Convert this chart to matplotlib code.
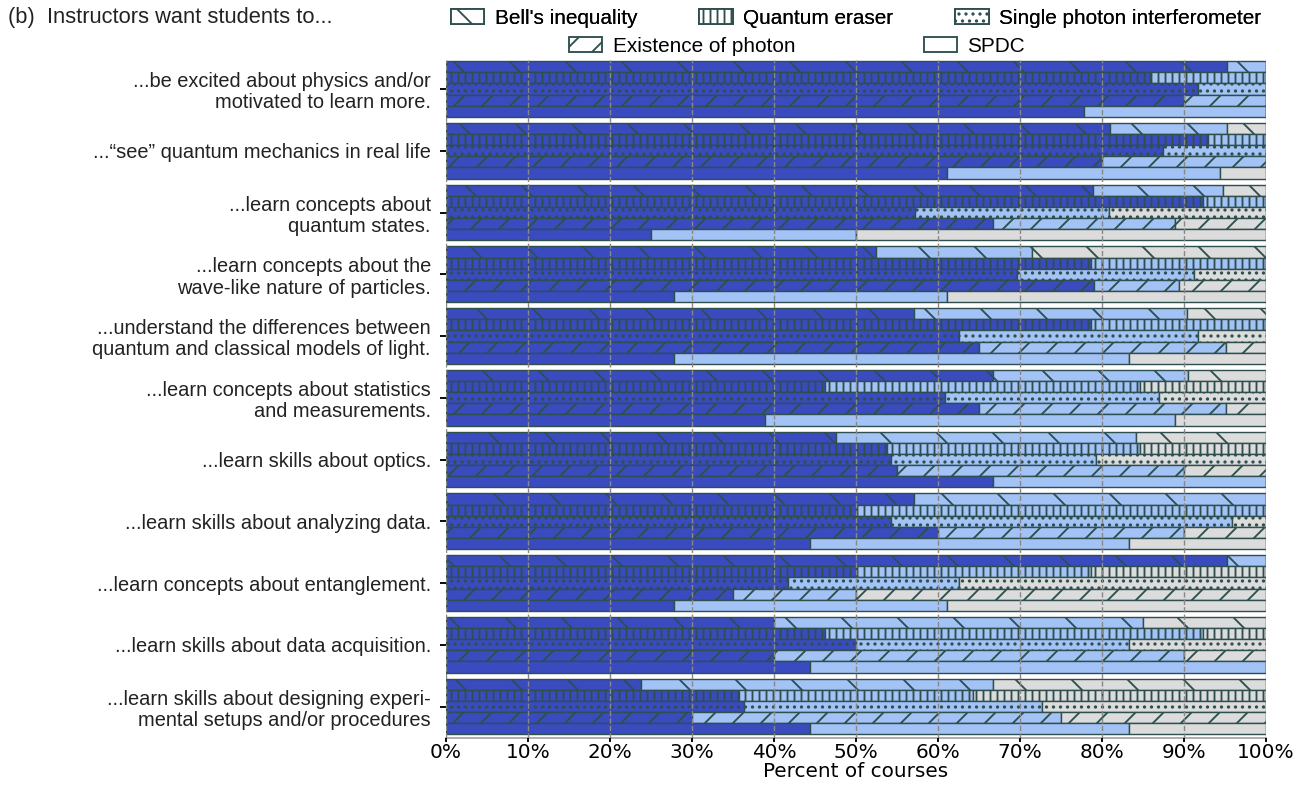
import matplotlib
matplotlib.use("Agg")
import matplotlib.pyplot as plt
import matplotlib.patches as mpatches
import numpy as np

# categories (top to bottom)
goals = [
    "...be excited about physics and/or\nmotivated to learn more.",
    "...\u201csee\u201d quantum mechanics in real life",
    "...learn concepts about\nquantum states.",
    "...learn concepts about the\nwave-like nature of particles.",
    "...understand the differences between\nquantum and classical models of light.",
    "...learn concepts about statistics\nand measurements.",
    "...learn skills about optics.",
    "...learn skills about analyzing data.",
    "...learn concepts about entanglement.",
    "...learn skills about data acquisition.",
    "...learn skills about designing experi-\nmental setups and/or procedures",
]

experiments = ["Bell's inequality", "Quantum eraser", "Single photon interferometer",
               "Existence of photon", "SPDC"]

# percent of courses per segment: dark / light / gray
bell_dark = [95.2, 81.0, 78.9, 52.4, 57.1, 66.7, 47.6, 57.1, 95.2, 40.0, 23.8]
bell_light = [4.8, 14.2, 15.9, 19.1, 33.3, 23.8, 36.6, 42.9, 4.8, 45.0, 42.9]
bell_gray = [0.0, 4.8, 5.2, 28.5, 9.6, 9.5, 15.8, 0.0, 0.0, 15.0, 33.3]

qe_dark = [85.8, 92.9, 92.3, 78.6, 78.6, 46.2, 53.8, 50.0, 50.0, 46.2, 35.7]
qe_light = [14.2, 7.1, 7.7, 21.4, 21.4, 38.4, 30.8, 50.0, 28.6, 46.1, 28.6]
qe_gray = [0.0, 0.0, 0.0, 0.0, 0.0, 15.4, 15.4, 0.0, 21.4, 7.7, 35.7]

spi_dark = [91.7, 87.5, 57.2, 69.6, 62.6, 60.9, 54.3, 54.3, 41.7, 50.0, 36.4]
spi_light = [8.3, 12.5, 23.7, 21.6, 29.1, 26.1, 25.0, 41.5, 20.9, 33.3, 36.3]
spi_gray = [0.0, 0.0, 19.1, 8.8, 8.3, 13.0, 20.7, 4.2, 37.4, 16.7, 27.3]

eop_dark = [90.0, 80.0, 66.7, 79.0, 65.0, 65.0, 55.0, 60.0, 35.0, 40.0, 30.0]
eop_light = [10.0, 20.0, 22.2, 10.4, 30.1, 30.1, 35.0, 30.0, 15.0, 50.0, 45.0]
eop_gray = [0.0, 0.0, 11.1, 10.6, 4.9, 4.9, 10.0, 10.0, 50.0, 10.0, 25.0]

spdc_dark = [77.8, 61.1, 25.0, 27.8, 27.8, 38.9, 66.7, 44.4, 27.8, 44.4, 44.4]
spdc_light = [22.2, 33.3, 25.0, 33.3, 55.5, 50.0, 33.3, 38.9, 33.3, 55.6, 38.9]
spdc_gray = [0.0, 5.6, 50.0, 38.9, 16.7, 11.1, 0.0, 16.7, 38.9, 0.0, 16.7]

series = [
    (bell_dark, bell_light, bell_gray),
    (qe_dark, qe_light, qe_gray),
    (spi_dark, spi_light, spi_gray),
    (eop_dark, eop_light, eop_gray),
    (spdc_dark, spdc_light, spdc_gray),
]
hatches = ["\\", "||||", "....", "//", ""]
seg_colors = ["#3a4bc0", "#a3c3f7", "#dcdcdc"]
edge = "#2f4f4f"

plt.rcParams["hatch.color"] = edge
plt.rcParams["hatch.linewidth"] = 0.8
label_font = "Liberation Sans"

DPI = 168
fig = plt.figure(figsize=(1307 / DPI, 785 / DPI), dpi=DPI)
ax = fig.add_axes([446 / 1307, 1 - 738 / 785, 820 / 1307, 678 / 785])

h = 0.18
y0 = np.arange(len(goals))
for k, (dark, light, gray) in enumerate(series):
    y = y0 - 0.36 + k * h
    left = np.zeros(len(goals))
    for vals, col in zip((dark, light, gray), seg_colors):
        ax.barh(y, vals, left=left, height=h, color=col, edgecolor=edge,
                linewidth=0.6, hatch=hatches[k])
        left = left + np.array(vals)

ax.set_xlim(0, 100)
ax.set_ylim(len(goals) - 0.5 + 0.01, -0.47)
ax.set_yticks(y0)
ax.set_yticklabels(goals, fontsize=8.6, family=label_font, color="#222222",
                   linespacing=1.15)
ax.set_xticks(np.arange(0, 101, 10))
ax.set_xticklabels([f"{v}%" for v in range(0, 101, 10)], fontsize=8.6)
ax.tick_params(axis="y", length=2.5, pad=4)
ax.tick_params(axis="x", length=1.5, pad=0.5)
ax.set_xlabel("Percent of courses", fontsize=8.6, labelpad=0)
ax.xaxis.grid(True, linestyle="--", color="#888888", linewidth=0.6)
ax.set_axisbelow(False)
for s in ["top", "right", "left"]:
    ax.spines[s].set_visible(False)
ax.spines["bottom"].set_color("#aaaaaa")

handles = [mpatches.Patch(facecolor="white", edgecolor=edge, hatch=hatches[k],
                          linewidth=0.8, label=experiments[k]) for k in range(5)]
leg1 = fig.legend(handles=handles[:3], loc="center", ncol=3,
                  bbox_to_anchor=(856 / 1307, 1 - 18 / 785), frameon=False,
                  prop={"family": label_font, "size": 8.9}, columnspacing=3.0,
                  handlelength=1.6, handletextpad=0.5, borderpad=0)
fig.add_artist(leg1)
fig.legend(handles=handles[3:], loc="center", ncol=2,
           bbox_to_anchor=(797 / 1307, 1 - 46 / 785), frameon=False,
           prop={"family": label_font, "size": 8.9}, columnspacing=6.2,
           handlelength=1.6, handletextpad=0.5, borderpad=0)

fig.text(8 / 1307, 1 - 18 / 785, "(b)  Instructors want students to...",
         fontsize=9.4, family=label_font, color="#222222", va="center", ha="left")

fig.savefig("out.png", dpi=DPI)
